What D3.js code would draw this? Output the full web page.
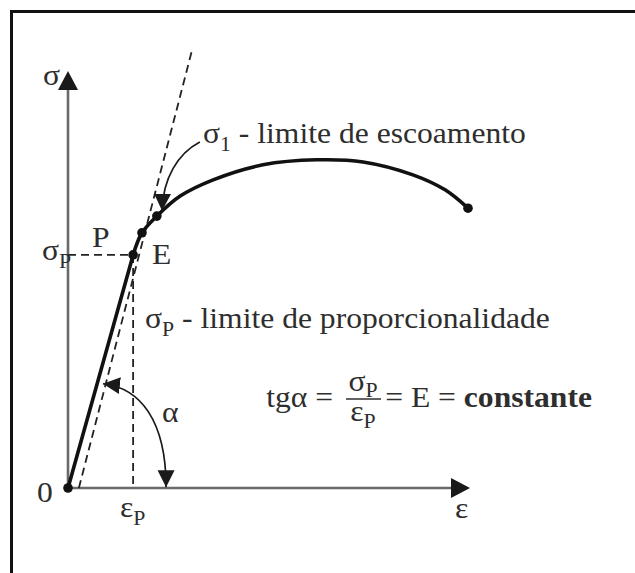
<!DOCTYPE html>
<html>
<head>
<meta charset="utf-8">
<script src="https://cdn.jsdelivr.net/npm/d3@7"></script>
<style>
  html, body { margin: 0; padding: 0; background: #fff; }
  svg { display: block; }
  text { font-family: "Liberation Serif", "Times New Roman", serif; fill: #2e2e2e; }
</style>
</head>
<body>
<svg id="chart" width="635" height="573"></svg>
<script>
// Stress–strain curve (arbitrary units: strain 0–100, stress 0–100)
const elasticStrain = [0, 16.2];
const elasticStress = [0, 55.9];
const plasticStrain = [16.2, 18.4, 22.1, 27.9, 36.1, 48.5, 61.9, 73.4, 85.8, 93.8, 99.5];
const plasticStress = [55.9, 61.2, 65.2, 70.0, 73.9, 77.5, 78.7, 78.2, 75.1, 71.5, 67.1];
// Highlighted points: origin, P (proportional limit), E (elastic limit), σ1 (yield), rupture
const dotStrain = [0, 16.2, 18.4, 22.1, 99.5];
const dotStress = [0, 55.9, 61.2, 65.2, 67.1];
// Dashed secant line from near the origin
const secantStrain = [2.7, 30.8];
const secantStress = [0, 104.8];

const svg = d3.select("#chart");
const W = 635, H = 573;
const SX = 1.09;   // horizontal stretch of the serif lettering

const x = d3.scaleLinear().domain([0, 100]).range([68, 470]);
const y = d3.scaleLinear().domain([0, 100]).range([488, 71]);

// outer frame (top and left edges)
svg.append("path")
  .attr("d", `M11.5,${H} L11.5,11.5 L${W},11.5`)
  .attr("fill", "none").attr("stroke", "#111").attr("stroke-width", 3);

// arrow marker for annotations
const defs = svg.append("defs");
defs.append("marker")
  .attr("id", "head")
  .attr("markerUnits", "userSpaceOnUse")
  .attr("viewBox", "0 -9 18 18")
  .attr("refX", 17).attr("refY", 0)
  .attr("markerWidth", 18).attr("markerHeight", 18)
  .attr("orient", "auto-start-reverse")
  .append("path").attr("d", "M0,-8.5L17,0L0,8.5Z").attr("fill", "#1a1a1a");

// axes
const axisColor = "#6a6a6a";
svg.append("line")
  .attr("x1", x(0)).attr("y1", y(0)).attr("x2", x(0)).attr("y2", y(100) + 15)
  .attr("stroke", axisColor).attr("stroke-width", 2.6);
svg.append("line")
  .attr("x1", x(0)).attr("y1", y(0)).attr("x2", x(100) - 15).attr("y2", y(0))
  .attr("stroke", axisColor).attr("stroke-width", 2.6);
// axis arrowheads
svg.append("path")
  .attr("d", `M${x(0)},${y(100)} L${x(0) + 10},${y(100) + 19} L${x(0) - 10},${y(100) + 19}Z`)
  .attr("fill", "#1a1a1a");
svg.append("path")
  .attr("d", `M${x(100)},${y(0)} L${x(100) - 19},${y(0) - 10} L${x(100) - 19},${y(0) + 10}Z`)
  .attr("fill", "#1a1a1a");

// dashed guides to σP and εP
const dash = "8 5";
const pX = elasticStrain[1], pY = elasticStress[1];
svg.append("line")
  .attr("x1", x(0)).attr("y1", y(pY)).attr("x2", x(pX)).attr("y2", y(pY))
  .attr("stroke", "#222").attr("stroke-width", 1.8).attr("stroke-dasharray", dash);
svg.append("line")
  .attr("x1", x(pX)).attr("y1", y(pY)).attr("x2", x(pX)).attr("y2", y(0))
  .attr("stroke", "#222").attr("stroke-width", 1.8).attr("stroke-dasharray", dash);

// dashed secant
svg.append("line")
  .attr("x1", x(secantStrain[0])).attr("y1", y(secantStress[0]))
  .attr("x2", x(secantStrain[1])).attr("y2", y(secantStress[1]))
  .attr("stroke", "#222").attr("stroke-width", 1.8).attr("stroke-dasharray", dash);

// curve
const lineLinear = d3.line().x(d => x(d[0])).y(d => y(d[1]));
const lineSmooth = d3.line().x(d => x(d[0])).y(d => y(d[1])).curve(d3.curveCatmullRom.alpha(0.5));
svg.append("path")
  .datum(d3.zip(elasticStrain, elasticStress))
  .attr("d", lineLinear)
  .attr("fill", "none").attr("stroke", "#111").attr("stroke-width", 3.6).attr("stroke-linecap", "round");
svg.append("path")
  .datum(d3.zip(plasticStrain, plasticStress))
  .attr("d", lineSmooth)
  .attr("fill", "none").attr("stroke", "#111").attr("stroke-width", 3.6).attr("stroke-linecap", "round");

svg.selectAll("circle.pt")
  .data(d3.zip(dotStrain, dotStress))
  .join("circle").attr("class", "pt")
  .attr("cx", d => x(d[0])).attr("cy", d => y(d[1])).attr("r", 4.8)
  .attr("fill", "#111");

// σ1 pointer
svg.append("path")
  .attr("d", `M${x(32.8)},${y(83.0)} C${x(27.4)},${y(80.3)} ${x(23.6)},${y(74.3)} ${x(23.4)},${y(66.5)}`)
  .attr("fill", "none").attr("stroke", "#1a1a1a").attr("stroke-width", 1.7)
  .attr("marker-end", "url(#head)");
// α arc
svg.append("path")
  .attr("d", `M${x(8.7)},${y(25.0)} C${x(17.9)},${y(24.0)} ${x(24.4)},${y(16.3)} ${x(24.4)},${y(0.2)}`)
  .attr("fill", "none").attr("stroke", "#1a1a1a").attr("stroke-width", 1.7)
  .attr("marker-start", "url(#head)").attr("marker-end", "url(#head)");

// text: every piece is stretched horizontally by SX around its anchor point
const fs = 29, sfs = 20;
function txt(xp, yp, opts = {}) {
  return svg.append("text")
    .attr("transform", `translate(${xp},${yp}) scale(${SX},1)`)
    .attr("font-size", opts.size || fs)
    .attr("text-anchor", opts.anchor || "start");
}
function withSub(t, main, sub, dy = 8, after) {
  t.append("tspan").text(main);
  t.append("tspan").attr("font-size", sfs).attr("dy", dy).text(sub);
  if (after) t.append("tspan").attr("dy", -dy).text(after);
  return t;
}

txt(43, 85).text("σ");
txt(37, 502).text("0");
txt(455, 518).text("ε");
withSub(txt(120, 517), "ε", "P");
withSub(txt(42, 260), "σ", "P");
txt(92, 247).text("P");
txt(152, 264).text("E");
txt(162, 422).text("α");

withSub(txt(203, 143), "σ", "1", 8, " - limite de escoamento");
withSub(txt(145, 328), "σ", "P", 8, " - limite de proporcionalidade");

// tgα = σP/εP = E = constante
txt(333, 407, { anchor: "end" }).text("tgα =");
withSub(txt(363, 391, { anchor: "middle" }), "σ", "P", 6);
withSub(txt(363, 421, { anchor: "middle" }), "ε", "P", 7);
svg.append("line").attr("x1", 346).attr("x2", 381).attr("y1", 399).attr("y2", 399)
  .attr("stroke", "#2e2e2e").attr("stroke-width", 1.6);
{
  const rest = txt(592, 407, { anchor: "end" });
  rest.append("tspan").text("= E = ");
  rest.append("tspan").attr("font-weight", "bold").text("constante");
}
</script>
</body>
</html>
